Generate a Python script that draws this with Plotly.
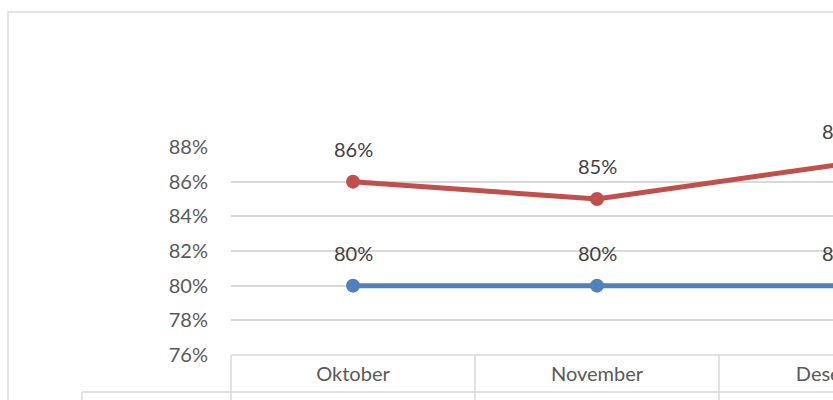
import plotly.graph_objects as go

# ---- data ----
months = ["Oktober", "November", "Desember"]
blue_vals = [80, 80, 80]
red_vals = [86, 85, 87]
y_ticks = [76, 78, 80, 82, 84, 86, 88]

# ---- style ----
BLUE = "#4F81BD"
RED = "#C0504D"
GRID = "#D9D9D9"
AXIS_TXT = "#595959"
LABEL_TXT = "#404040"
FONT = "Lato"

W, H = 1000, 490
L, T = 231, 147
PW, PH = 732, 208

fig = go.Figure()
for vals, col in [(blue_vals, BLUE), (red_vals, RED)]:
    fig.add_trace(go.Scatter(
        x=months, y=vals, mode="lines+markers",
        line=dict(color=col, width=5),
        marker=dict(size=14, color=col),
        hoverinfo="skip", cliponaxis=False))
    for m, v in zip(months, vals):
        fig.add_annotation(x=m, y=v, text=f"{v}%", showarrow=False, yshift=33,
                           font=dict(family=FONT, size=20, color=LABEL_TXT))

fig.update_layout(
    width=W, height=H,
    margin=dict(l=L, r=W - L - PW, t=T, b=H - T - PH, pad=0),
    plot_bgcolor="white", paper_bgcolor="white", showlegend=False,
    font=dict(family=FONT, color=AXIS_TXT, size=20),
)
fig.update_xaxes(type="category", range=[-0.5, len(months) - 0.5],
                 showgrid=False, showline=False, zeroline=False, ticks="",
                 ticklabelstandoff=5, tickfont=dict(size=20, color=AXIS_TXT))
fig.update_yaxes(range=[y_ticks[0], y_ticks[-1]], tickvals=y_ticks,
                 ticktext=[f"{t}%" for t in y_ticks],
                 gridcolor=GRID, gridwidth=1.5, zeroline=False, showline=False,
                 ticklabelstandoff=22, tickfont=dict(size=20, color=AXIS_TXT))

def pline(x0, x1, y0, y1):
    fig.add_shape(type="line", xref="paper", yref="paper",
                  xsizemode="pixel", ysizemode="pixel", xanchor=0, yanchor=0,
                  x0=x0, x1=x1, y0=y0, y1=y1,
                  line=dict(color=GRID, width=1.5))

# data table grid
pline(0, PW, 0, 0)
for yy in (-37, -74, -111):
    pline(-149, PW, yy, yy)
for i in range(len(months) + 1):
    pline(i * PW / len(months), i * PW / len(months), 0, -111)
pline(-149, -149, -37, -111)

# outer chart border
fig.add_shape(type="rect", xref="paper", yref="paper",
              xsizemode="pixel", ysizemode="pixel", xanchor=0, yanchor=0,
              x0=-223, x1=W - 10 - L, y0=-(H - 10 - T - PH), y1=PH + T - 12,
              line=dict(color=GRID, width=1.5), fillcolor="rgba(0,0,0,0)")

post = ("var d=document.getElementById('{plot_id}');"
        "document.documentElement.style.overflow='hidden';"
        "document.body.style.margin='0';document.body.style.overflow='hidden';"
        "d.style.width='833px';d.style.height='400px';d.style.overflow='hidden';"
        "var p=d.parentElement;p.style.width='833px';p.style.height='400px';p.style.overflow='hidden';")
fig.write_html("out.html", post_script=post, config={"displayModeBar": False})
